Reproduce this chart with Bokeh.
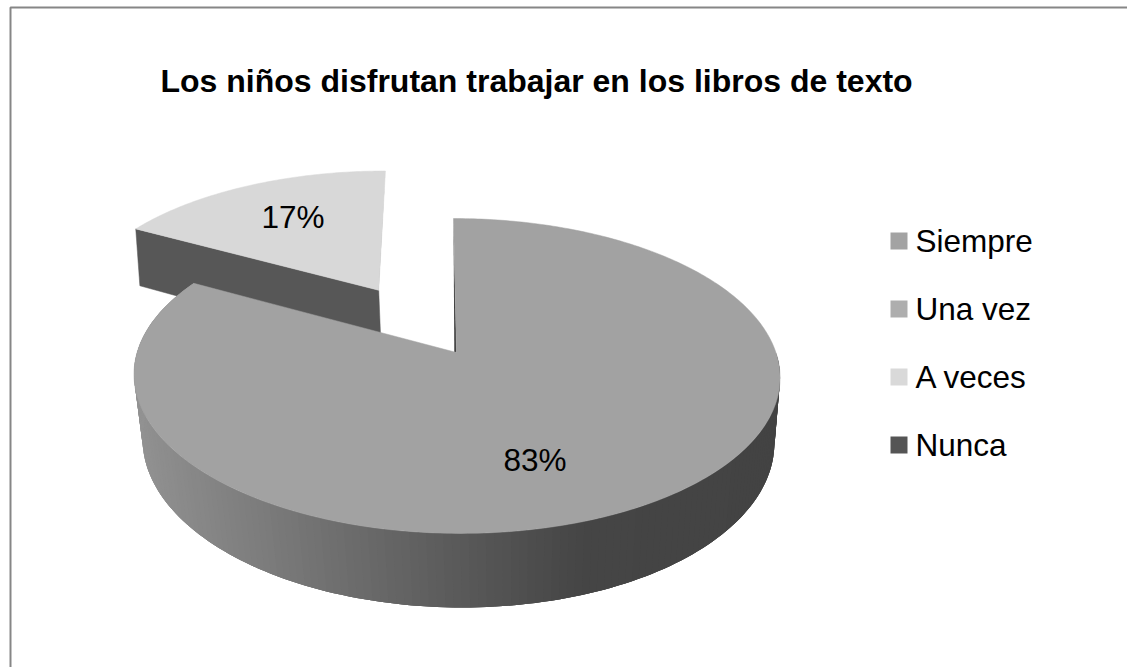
import numpy as np
from bokeh.plotting import figure
from bokeh.models import Range1d
from bokeh.core.properties import value
from bokeh.embed import file_html
from bokeh.resources import INLINE

title_text = "Los niños disfrutan trabajar en los libros de texto"
categories = ["Siempre", "Una vez", "A veces", "Nunca"]
legend_colors = ["#a3a3a3", "#aeaeae", "#d9d9d9", "#555555"]
main_value = 83
other_value = 17
labels = ["83%", "17%"]

MAIN_TOP = "#a2a2a2"
OTHER_TOP = "#d8d8d8"
OTHER_WALL = "#575757"
EXPLODE = 0.5
CX = 456.0
SKEW = 3.0 / 134.0

def top_plane(u, v):
    w = 1 + 0.149 * v
    y = (352 - 101.5 * v) / w
    return CX + 319.4 * u / w - (352 - y) * SKEW, y

def bottom_plane(u, v):
    w = 1 + 0.135 * v
    y = (418 - 107 * v) / w
    return CX + 313 * u / w - (352 - y) * SKEW, y

total = main_value + other_value
split = 2 * np.pi * main_value / total

def arc(a0, a1, n=240):
    t = np.linspace(a0, a1, n)
    return np.sin(t), np.cos(t)

p = figure(width=1127, height=667, x_range=Range1d(0, 1127), y_range=Range1d(667, 0),
           output_backend="svg", toolbar_location=None, min_border=0,
           x_axis_location=None, y_axis_location=None,
           outline_line_color=None, background_fill_color="white", border_fill_color="white")
p.grid.visible = False

# chart frame
p.line([10, 10, 1127], [667, 7, 7], line_color="#868686", line_width=2)

# exploded slice
mid = (split + 2 * np.pi) / 2
du, dv = EXPLODE * np.sin(mid), EXPLODE * np.cos(mid)
u, v = arc(split, 2 * np.pi, 80)
ou = np.r_[0, u] + du
ov = np.r_[0, v] + dv
tx, ty = top_plane(ou, ov)
bx, by = bottom_plane(ou, ov)
p.patch([tx[1], tx[0], bx[0], bx[1]], [ty[1], ty[0], by[0], by[1]],
        fill_color=OTHER_WALL, line_color=OTHER_WALL, line_width=0.5)
p.patch([tx[-1], tx[0], tx[0] - 1.2], [ty[-1], ty[0], ty[0]],
        fill_color="#a8a8a8", line_color=None)
p.patch(tx, ty, fill_color=OTHER_TOP, line_color=OTHER_TOP, line_width=0.5)

# main slice: radial wall at twelve o'clock
tx0, ty0 = top_plane(np.array([0.0, 0.0]), np.array([0.0, 1.0]))
p.patch([tx0[0], tx0[1], tx0[0] - 2.2], [ty0[0], ty0[1], ty0[0]],
        fill_color="#404040", line_color=None)

# main slice: outer wall, shaded left to right
stops_x = [0.0, 0.2, 0.45, 0.7, 1.0]
stops_g = [0x92, 0x7c, 0x60, 0x45, 0x43]
u, v = arc(np.pi * 0.5, split, 161)
tx, ty = top_plane(u, v)
bx, by = bottom_plane(u, v)
wall_x, wall_y, wall_c = [], [], []
for i in range(len(u) - 1):
    j = min(i + 3, len(u) - 1)
    t = (bx[i] - bx.min()) / (bx.max() - bx.min())
    g = int(round(np.interp(t, stops_x, stops_g)))
    wall_x.append(list(tx[i:j + 1]) + list(bx[i:j + 1][::-1]))
    wall_y.append(list(ty[i:j + 1]) + list(by[i:j + 1][::-1]))
    wall_c.append(f"#{g:02x}{g:02x}{g:02x}")
p.patches(wall_x, wall_y, fill_color=wall_c, line_color=None)

# main slice: top face
u, v = arc(0, split, 360)
tx, ty = top_plane(np.r_[0, u], np.r_[0, v])
p.patch(tx, ty, fill_color=MAIN_TOP, line_color=MAIN_TOP, line_width=0.5)

font = value("Liberation Sans")
p.text([534.5, 292.5], [459.5, 216], text=labels, text_font=font, text_font_size="31.5px",
       text_align="center", text_baseline="middle", text_color="#000000")
p.text([160], [80], text=[title_text], text_font=font, text_font_size="32px",
       text_font_style="bold", text_align="left", text_baseline="middle", text_color="#000000")

# legend
ly = [240.5, 308.5, 376.5, 444.5]
ty_legend = [240.5, 308, 376, 444]
p.rect([898.5] * 4, ly, width=17, height=17, fill_color=legend_colors, line_color=None)
p.text([915] * 4, ty_legend, text=categories, text_font=font, text_font_size="31.5px",
       text_align="left", text_baseline="middle", text_color="#000000")

open("out.html", "w").write(file_html(p, INLINE))
